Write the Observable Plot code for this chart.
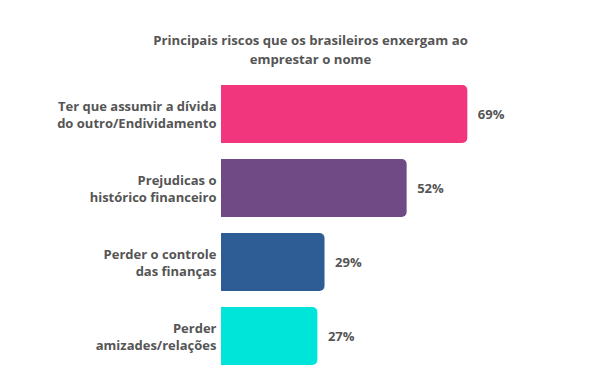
<!DOCTYPE html>
<html>
<head>
<meta charset="utf-8">
<script src="https://cdn.jsdelivr.net/npm/d3@7"></script>
<script src="https://cdn.jsdelivr.net/npm/@observablehq/plot@0.6"></script>
<style>
  html, body { margin: 0; padding: 0; background: #fff; }
  #title {
    box-sizing: border-box; height: 70px; width: 611px; padding-top: 31px;
    text-align: center; font-family: "Open Sans", sans-serif; font-weight: 700;
    font-size: 13.2px; line-height: 19px; color: #555; padding-left: 10px;
  }
  #chart svg { display: block; }
</style>
</head>
<body>
<div id="title">Principais riscos que os brasileiros enxergam ao<br>emprestar o nome</div>
<div id="chart"></div>
<script>
const categories = [
  "Ter que assumir a dívida\ndo outro/Endividamento",
  "Prejudicas o\nhistórico financeiro",
  "Perder o controle\ndas finanças",
  "Perder\namizades/relações"
];
const values = [69, 52, 29, 27];
const colors = ["#F2367D", "#6F4A85", "#2E5D96", "#00E5D9"];

const data = categories.map((c, i) => ({cat: c, value: values[i], color: colors[i]}));

const chart = Plot.plot({
  width: 611,
  height: 305,
  marginLeft: 221,
  marginRight: 33,
  marginTop: 6,
  marginBottom: 2,
  style: {fontFamily: "'Open Sans', sans-serif", fontWeight: 700, fontSize: "13px", color: "#555"},
  x: {domain: [0, 100], axis: null},
  y: {domain: categories, paddingInner: 0.22, paddingOuter: 0.1, label: null},
  marks: [
    Plot.barX(data, {x: "value", y: "cat", fill: "color", rx2: 5}),
    Plot.axisY({tickSize: 0, tickPadding: 5, lineHeight: 1.3, fill: "#555", fontWeight: 700, fontSize: 13, label: null}),
    Plot.text(data, {x: "value", y: "cat", text: d => d.value + "%", textAnchor: "start", dx: 10, fill: "#555", fontWeight: 700, fontSize: 13})
  ]
});
document.getElementById("chart").append(chart);
</script>
</body>
</html>
